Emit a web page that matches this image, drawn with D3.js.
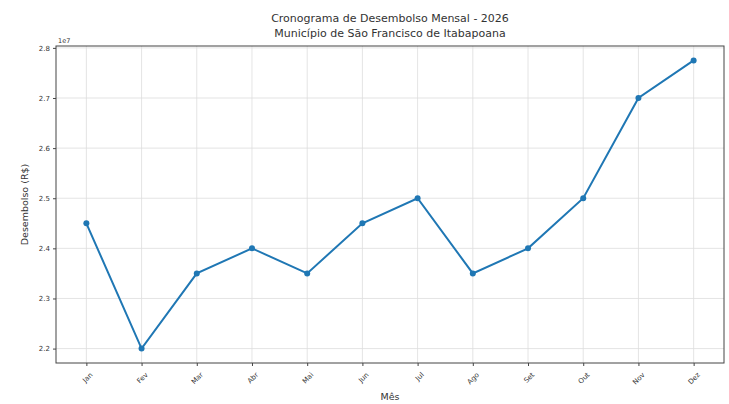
<!DOCTYPE html>
<html>
<head>
<meta charset="utf-8">
<script src="https://cdn.jsdelivr.net/npm/d3@7"></script>
<style>
  body { margin: 0; background: #fff; }
  text { font-family: "DejaVu Sans", sans-serif; fill: #333; }
</style>
</head>
<body>
<svg id="chart" width="729" height="404"></svg>
<script>
const meses = ["Jan","Fev","Mar","Abr","Mai","Jun","Jul","Ago","Set","Out","Nov","Dez"];
const desembolso = [2.45e7, 2.2e7, 2.35e7, 2.4e7, 2.35e7, 2.45e7, 2.5e7, 2.35e7, 2.4e7, 2.5e7, 2.7e7, 2.775e7];
const yTicks = [2.2e7, 2.3e7, 2.4e7, 2.5e7, 2.6e7, 2.7e7, 2.8e7];

const svg = d3.select("#chart");
const mLeft = 56, mRight = 724, mTop = 46, mBottom = 363;

// margens de 5% como no matplotlib
const x = d3.scaleLinear().domain([-0.55, 11.55]).range([mLeft, mRight]);
const yMin = d3.min(desembolso), yMax = d3.max(desembolso);
const pad = (yMax - yMin) * 0.05;
const y = d3.scaleLinear().domain([yMin - pad, yMax + pad]).range([mBottom, mTop]);

// grade
svg.append("g").selectAll("line").data(meses).join("line")
  .attr("x1", (d,i) => x(i)).attr("x2", (d,i) => x(i))
  .attr("y1", mTop).attr("y2", mBottom)
  .attr("stroke", "#ddd").attr("stroke-width", 0.8);
svg.append("g").selectAll("line").data(yTicks).join("line")
  .attr("x1", mLeft).attr("x2", mRight)
  .attr("y1", d => y(d)).attr("y2", d => y(d))
  .attr("stroke", "#ddd").attr("stroke-width", 0.8);

// eixos
const xAxis = svg.append("g").attr("transform", `translate(0,${mBottom})`)
  .call(d3.axisBottom(x).tickValues(d3.range(12)).tickFormat(i => meses[i]).tickSize(3).tickSizeOuter(0));
xAxis.select(".domain").remove();
xAxis.selectAll("text")
  .style("font-size", "7px")
  .attr("text-anchor", "end")
  .attr("dx", "0").attr("dy", "0")
  .attr("transform", "translate(2,8) rotate(-45)");

const yAxis = svg.append("g").attr("transform", `translate(${mLeft},0)`)
  .call(d3.axisLeft(y).tickValues(yTicks).tickFormat(d => (d / 1e7).toFixed(1)).tickSize(3));
yAxis.select(".domain").remove();
yAxis.selectAll("text").style("font-size", "7px");
svg.selectAll(".tick line").attr("stroke", "#444");

svg.append("rect").attr("x", mLeft).attr("y", mTop)
  .attr("width", mRight - mLeft).attr("height", mBottom - mTop)
  .attr("fill", "none").attr("stroke", "#444").attr("stroke-width", 1);

// linha + pontos
const line = d3.line().x((d,i) => x(i)).y(d => y(d));
svg.append("path").datum(desembolso)
  .attr("d", line).attr("fill", "none")
  .attr("stroke", "#1f77b4").attr("stroke-width", 2);
svg.append("g").selectAll("circle").data(desembolso).join("circle")
  .attr("cx", (d,i) => x(i)).attr("cy", d => y(d)).attr("r", 3)
  .attr("fill", "#1f77b4");

// textos
svg.append("text").attr("x", mLeft + 2).attr("y", mTop - 3)
  .style("font-size", "6.5px").text("1e7");
svg.append("text").attr("x", 390).attr("y", 22).attr("text-anchor", "middle")
  .style("font-size", "11px").text("Cronograma de Desembolso Mensal - 2026");
svg.append("text").attr("x", 390).attr("y", 37).attr("text-anchor", "middle")
  .style("font-size", "11px").text("Município de São Francisco de Itabapoana");
svg.append("text").attr("x", 390).attr("y", 400).attr("text-anchor", "middle")
  .style("font-size", "9.5px").text("Mês");
svg.append("text").attr("transform", `translate(28,${(mTop + mBottom) / 2}) rotate(-90)`)
  .attr("text-anchor", "middle").style("font-size", "9.5px").text("Desembolso (R$)");
</script>
</body>
</html>
